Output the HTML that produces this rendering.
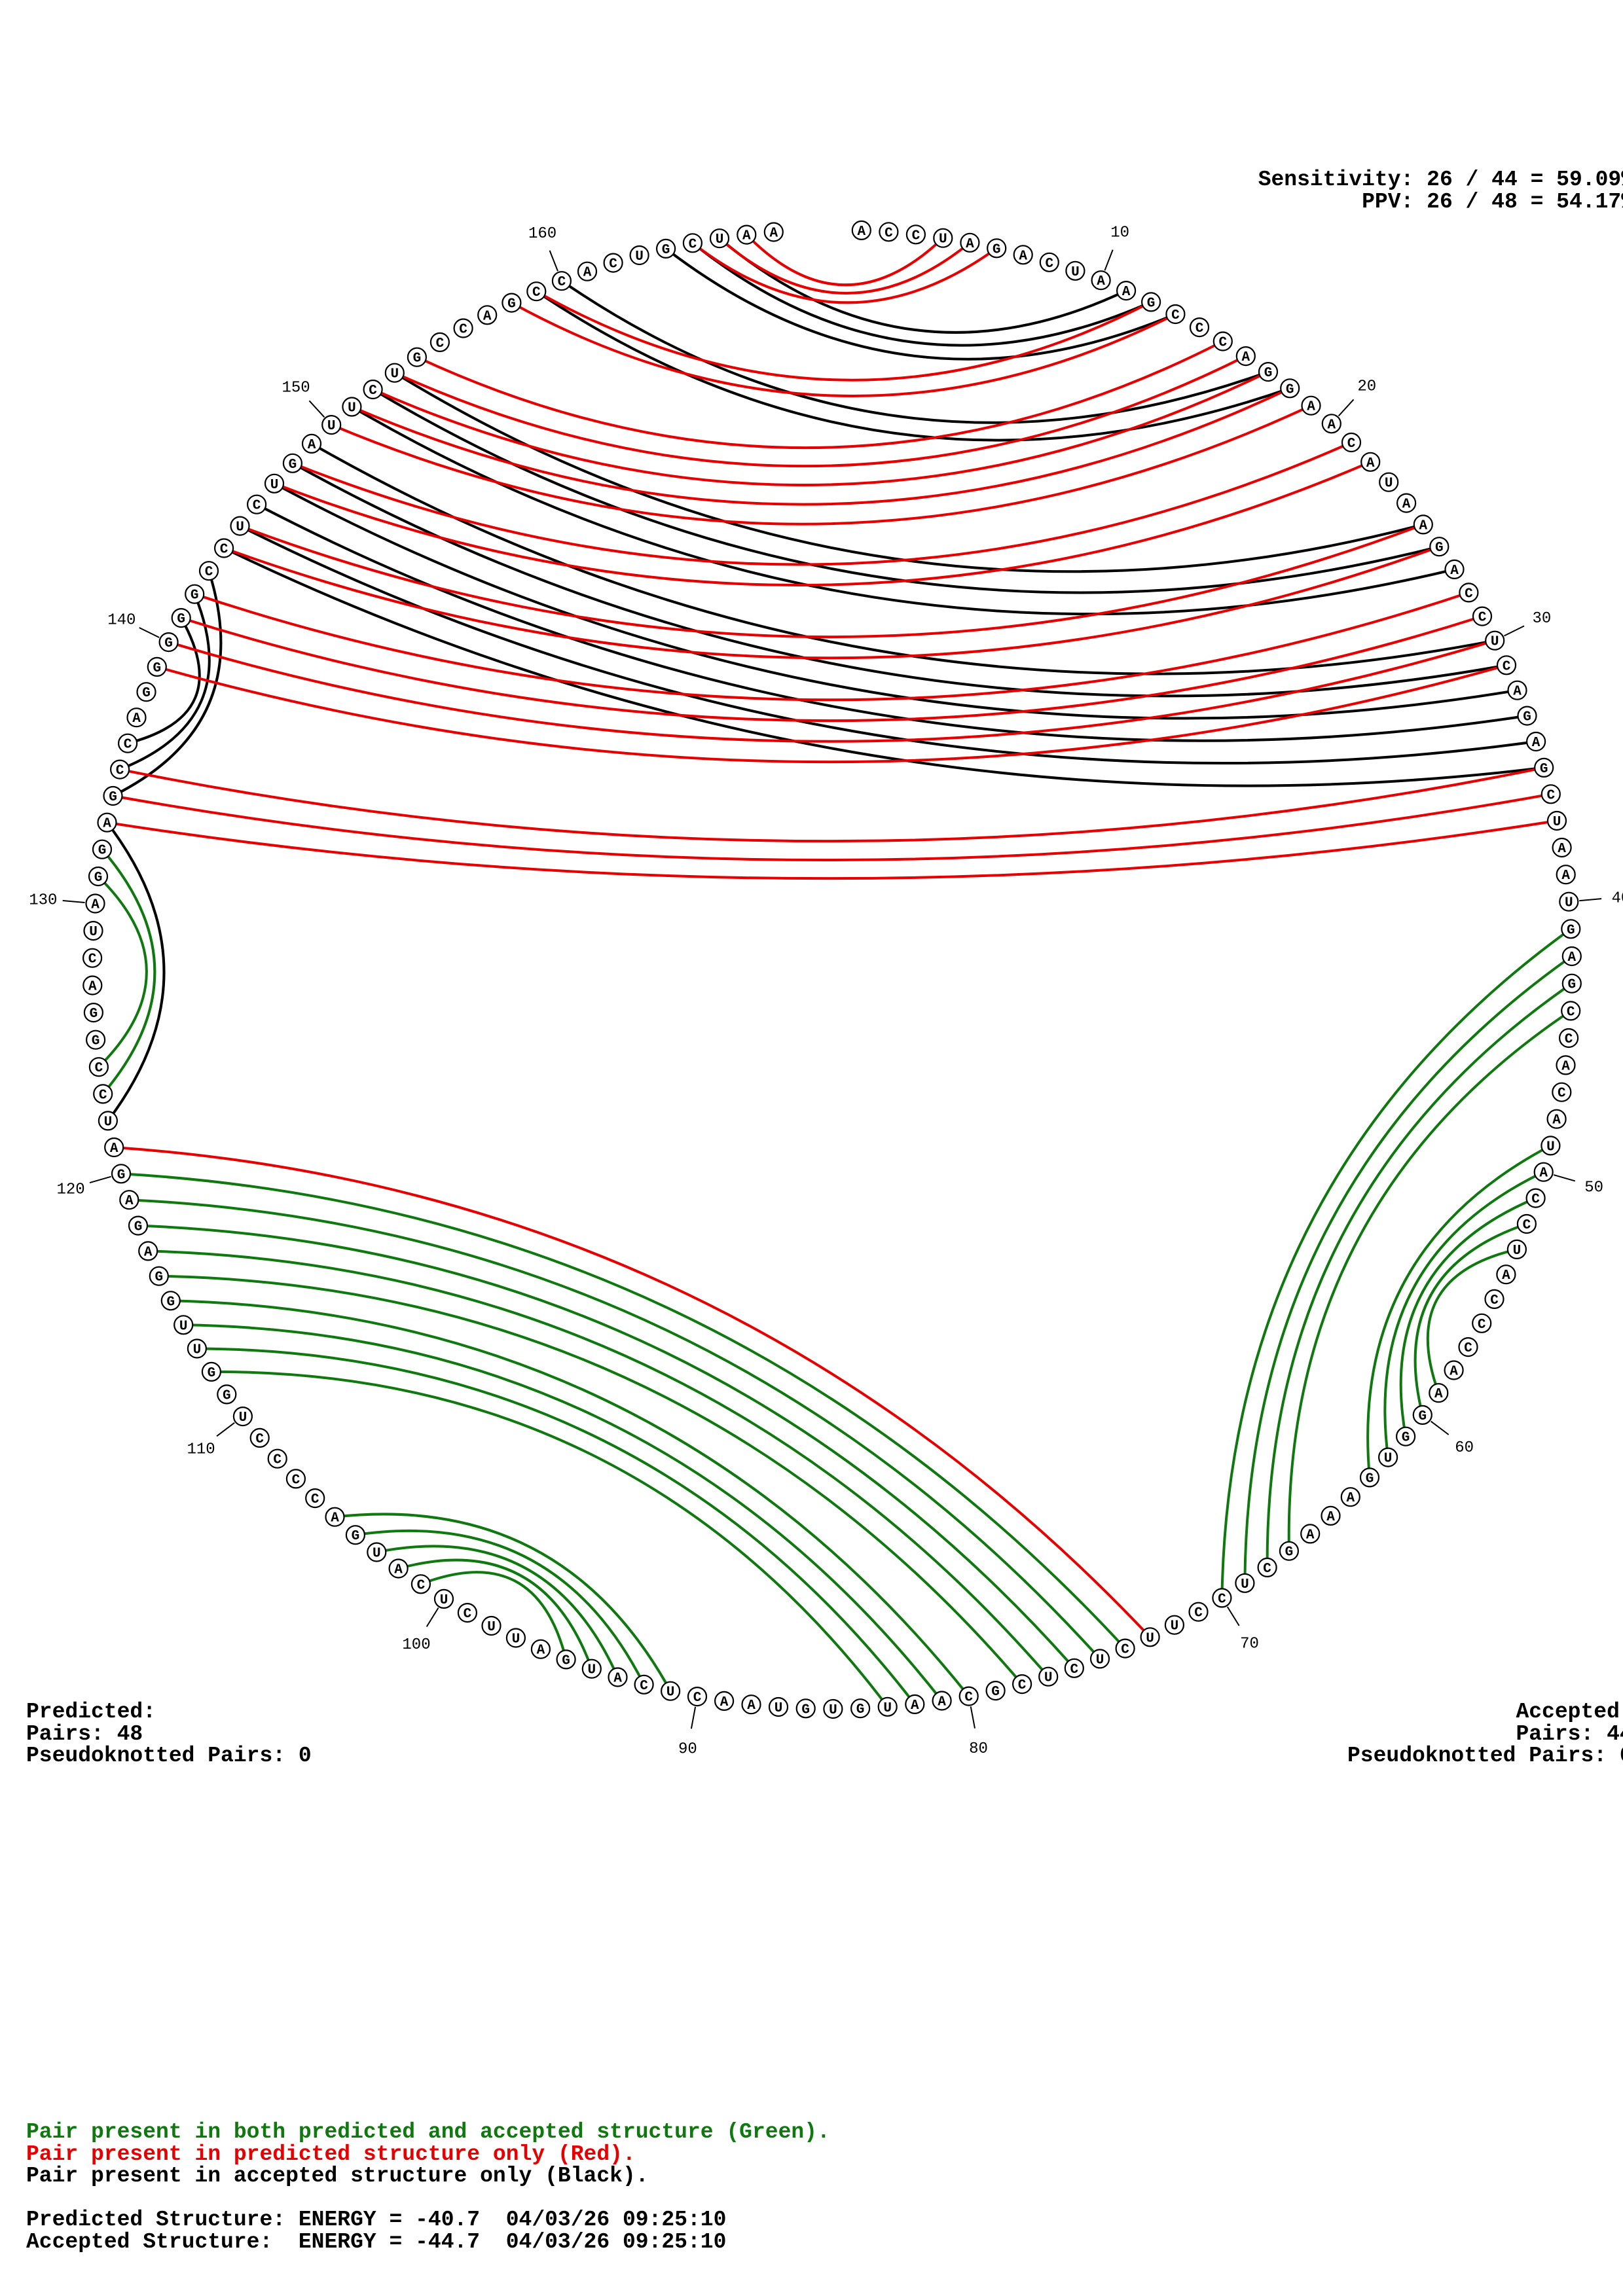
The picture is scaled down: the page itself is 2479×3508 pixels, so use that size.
<!DOCTYPE html>
<html><head><meta charset="utf-8">
<style>
html,body{margin:0;padding:0;background:#fff;}
body{width:2479px;height:3508px;position:relative;overflow:hidden;}
.t{position:absolute;font-family:"Liberation Mono",monospace;font-weight:bold;font-size:33px;line-height:33.5px;white-space:pre;color:#000;}
</style></head><body>
<svg id="s" width="2479" height="3508" style="position:absolute;left:0;top:0" xmlns="http://www.w3.org/2000/svg"></svg>
<div class="t" style="right:-17px;top:258px;text-align:right">Sensitivity: 26 / 44 = 59.09%
PPV: 26 / 48 = 54.17%</div>
<div class="t" style="left:40px;top:2599px">Predicted:
Pairs: 48
Pseudoknotted Pairs: 0</div>
<div class="t" style="left:2058px;top:2599px">             Accepted:
             Pairs: 44
Pseudoknotted Pairs: 0</div>
<div class="t" style="left:40px;top:3241px"><span style="color:#0f780f">Pair present in both predicted and accepted structure (Green).</span>
<span style="color:#e60000">Pair present in predicted structure only (Red).</span>
Pair present in accepted structure only (Black).

Predicted Structure: ENERGY = -40.7  04/03/26 09:25:10
Accepted Structure:  ENERGY = -44.7  04/03/26 09:25:10</div>
<script>
(function(){
var seq="ACCUAGACUA"+"AGCCCAGGAA"+"CAUAAGACCU"+"CAGAGCUAAU"+"GAGCCACAUA"+"CCUACCCAAG"+"GUGAAAGCUC"+"CUUCUCUCGC"+"AAUGUGUAAC"+"UCAUGAUUCU"+"CAUGACCCCU"+"GGUUGGAGAG"+"AUCCGGACUA"+"GGAGCCAGGG"+"GGCCUCUGAU"+"UCUGCCAGCC"+"ACUGCUAA";
var cx=1271,cy=1481,R=1130,d0=2.27,dd=2.115;
function ang(i){return (d0+(i-1)*dd)*Math.PI/180;}
function pos(i,r){var a=ang(i);r=r||R;return [cx+r*Math.sin(a),cy-r*Math.cos(a)];}
var black=[[166,11],[165,12],[164,13],[160,17],[159,18],[153,25],[152,26],[151,27],[149,30],[148,31],[147,32],[146,33],[145,34],[144,35],[143,134],[142,135],[141,136],[133,122]];
var red=[[167,4],[166,5],[165,6],[159,12],[158,13],[154,15],[153,16],[152,17],[151,18],[150,19],[148,21],[147,22],[145,25],[144,26],[142,28],[141,29],[140,30],[139,31],[135,35],[134,36],[133,37],[121,73]];
var green=[[41,70],[42,69],[43,68],[44,67],[49,63],[50,62],[51,61],[52,60],[53,59],[101,95],[102,94],[103,93],[104,92],[105,91],[112,83],[113,82],[114,81],[115,80],[116,78],[117,77],[118,76],[119,75],[120,74],[131,124],[132,123]];
var out="";
function arc(p,col){
  var a=pos(p[0]),b=pos(p[1]);
  var da=Math.abs(ang(p[0])-ang(p[1]))*180/Math.PI; if(da>180)da=360-da;
  var al=da/2;
  var f=0.9-0.8*Math.pow(al/90,1.3);
  var mx=(a[0]+b[0])/2,my=(a[1]+b[1])/2;
  var qx=cx+f*(mx-cx),qy=cy+f*(my-cy);
  out+='<path d="M'+a[0].toFixed(1)+' '+a[1].toFixed(1)+' Q'+qx.toFixed(1)+' '+qy.toFixed(1)+' '+b[0].toFixed(1)+' '+b[1].toFixed(1)+'" fill="none" stroke="'+col+'" stroke-width="4"/>';
}
black.forEach(function(p){arc(p,"#000");});
red.forEach(function(p){arc(p,"#e60000");});
green.forEach(function(p){arc(p,"#0f780f");});
for(var i=10;i<=160;i+=10){
  var a=pos(i,R+16),b=pos(i,R+50),c=pos(i,R+80);
  out+='<line x1="'+a[0].toFixed(1)+'" y1="'+a[1].toFixed(1)+'" x2="'+b[0].toFixed(1)+'" y2="'+b[1].toFixed(1)+'" stroke="#000" stroke-width="2"/>';
  out+='<text x="'+c[0].toFixed(1)+'" y="'+(c[1]+8).toFixed(1)+'" font-family="Liberation Mono, monospace" font-size="24" text-anchor="middle">'+i+'</text>';
}
for(var i=1;i<=seq.length;i++){
  var p=pos(i);
  out+='<circle cx="'+p[0].toFixed(1)+'" cy="'+p[1].toFixed(1)+'" r="14" fill="#fff" stroke="#000" stroke-width="2.2"/>';
  out+='<text x="'+p[0].toFixed(1)+'" y="'+(p[1]+7).toFixed(1)+'" font-family="Liberation Mono, monospace" font-weight="bold" font-size="21" text-anchor="middle">'+seq[i-1]+'</text>';
}
document.getElementById("s").innerHTML=out;
})();
</script>
</body></html>
